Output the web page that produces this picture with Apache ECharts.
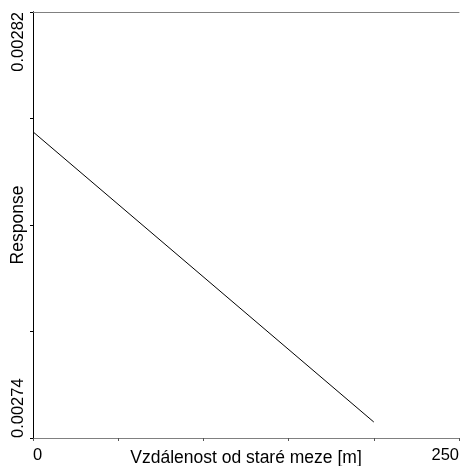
<!DOCTYPE html>
<html>
<head>
<meta charset="utf-8">
<script src="https://cdn.jsdelivr.net/npm/echarts@6/dist/echarts.min.js"></script>
<style>
  html, body { margin: 0; padding: 0; background: #fff; }
  #main { width: 460px; height: 466px; }
</style>
</head>
<body>
<div id="main"></div>
<script>
// data
var distance = [0, 200];
var response = [0.0027975, 0.0027430];
var xMin = 0, xMax = 250, xStep = 50;
var yMin = 0.00274, yMax = 0.00282, yStep = 0.00002;
var xTitle = 'Vzdálenost od staré meze [m]';
var yTitle = 'Response';

var font = 'Liberation Sans, Arial, sans-serif';
var myChart = echarts.init(document.getElementById('main'));

var points = distance.map(function (d, i) { return [d, response[i]]; });

function near(a, b) { return Math.abs(a - b) < 1e-10; }

var option = {
    animation: false,
    backgroundColor: '#fff',
    grid: { left: 33, right: 1, top: 12, bottom: 28, containLabel: false, outerBoundsMode: 'none' },
    xAxis: [{
        type: 'value',
        position: 'bottom',
        min: xMin, max: xMax, interval: xStep,
        name: xTitle,
        nameLocation: 'middle',
        nameGap: 11,
        nameMoveOverlap: false,
        nameTextStyle: { fontFamily: font, fontSize: 17.5, color: '#000' },
        axisLine: { lineStyle: { color: '#808080', width: 1 } },
        axisTick: { show: true, length: 3, lineStyle: { color: '#555' } },
        splitLine: { show: false },
        axisLabel: {
            fontFamily: font, fontSize: 16.5, color: '#000', margin: 9,
            showMinLabel: true, showMaxLabel: true,
            alignMinLabel: 'left', alignMaxLabel: 'right',
            formatter: function (v) {
                return (near(v, xMin) || near(v, xMax)) ? String(v) : '';
            }
        }
    }, {
        type: 'value',
        position: 'top',
        min: xMin, max: xMax,
        axisLine: { lineStyle: { color: '#808080', width: 1 } },
        axisTick: { show: false },
        axisLabel: { show: false },
        splitLine: { show: false }
    }],
    yAxis: [{
        type: 'value',
        position: 'left',
        min: yMin, max: yMax, interval: yStep,
        name: yTitle,
        nameLocation: 'middle',
        nameGap: 6,
        nameMoveOverlap: false,
        nameTextStyle: { fontFamily: font, fontSize: 17.5, color: '#000' },
        axisLine: { show: true, lineStyle: { color: '#000', width: 1 } },
        axisTick: { show: true, length: 3, lineStyle: { color: '#000' } },
        splitLine: { show: false },
        axisLabel: {
            fontFamily: font, fontSize: 16.5, color: '#000', margin: 6,
            rotate: 90,
            showMinLabel: true, showMaxLabel: true,
            alignMinLabel: 'left', alignMaxLabel: 'right',
            formatter: function (v) {
                return (near(v, yMin) || near(v, yMax)) ? v.toFixed(5) : '';
            }
        }
    }, {
        type: 'value',
        position: 'right',
        min: yMin, max: yMax,
        axisLine: { show: true, lineStyle: { color: '#000', width: 1 } },
        axisTick: { show: false },
        axisLabel: { show: false },
        splitLine: { show: false }
    }],
    series: [{
        type: 'line',
        data: points,
        showSymbol: false,
        lineStyle: { color: '#000', width: 1 }
    }]
};

myChart.setOption(option);
</script>
</body>
</html>
